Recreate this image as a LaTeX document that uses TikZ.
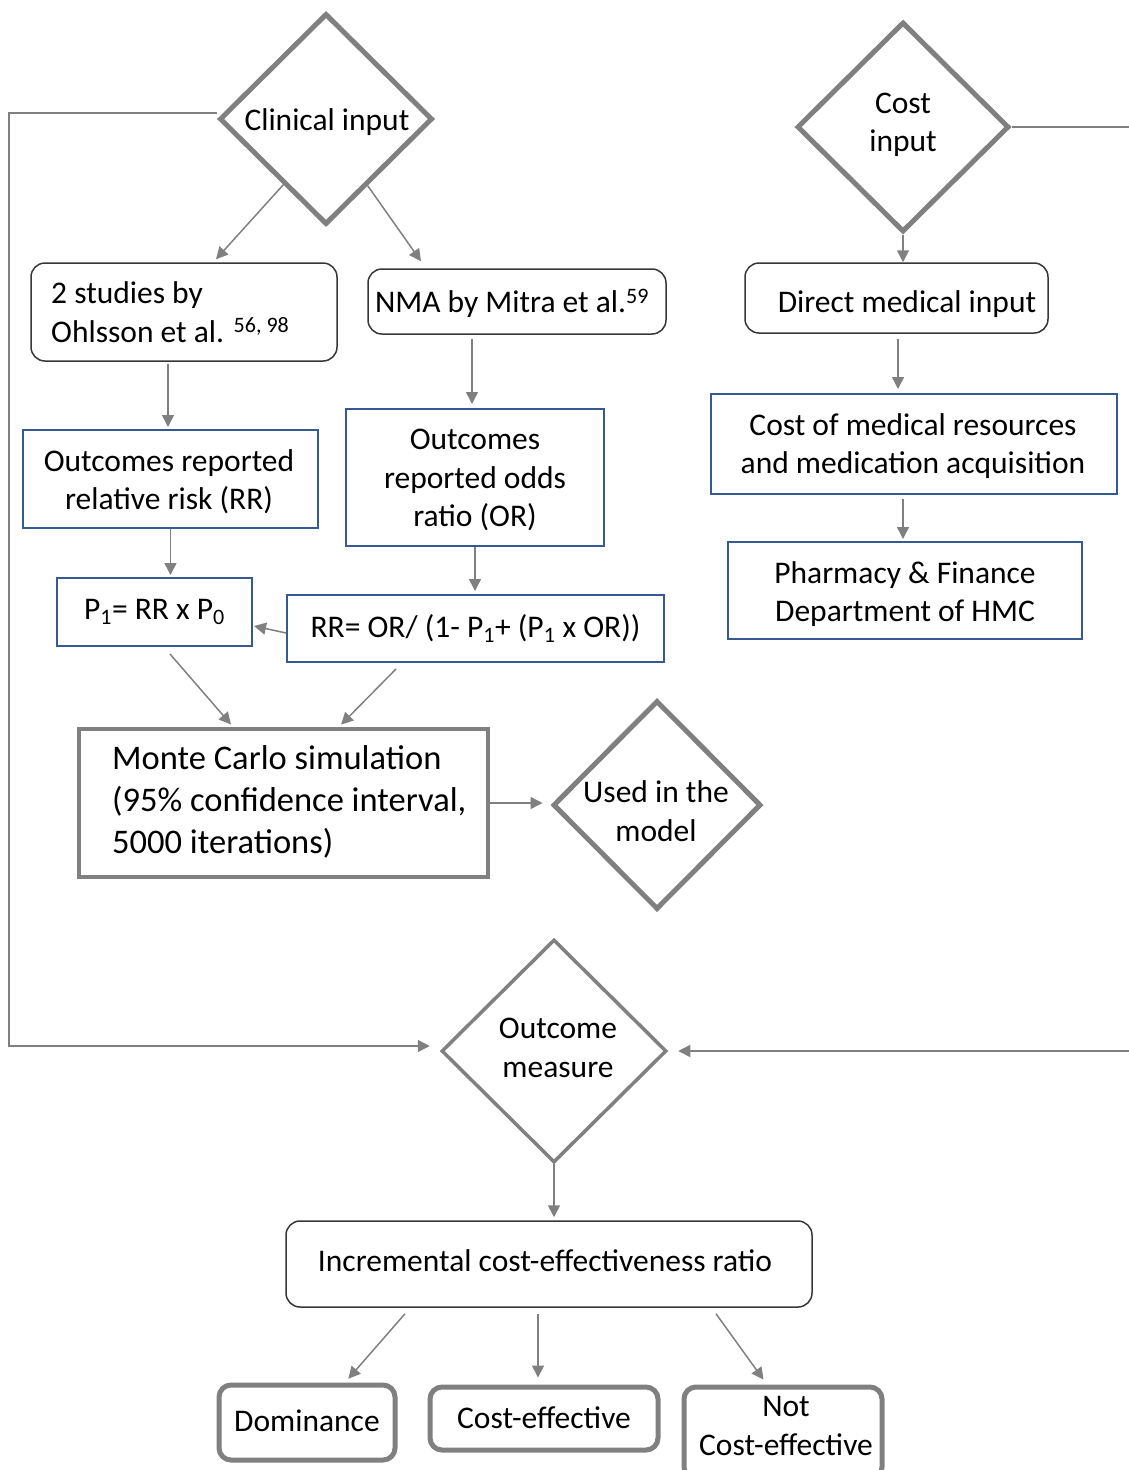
\documentclass[tikz,border=0pt]{standalone}
\usepackage{fontspec}
\setmainfont{Carlito}
\usetikzlibrary{shapes.geometric,arrows.meta,calc}
\definecolor{lgray}{RGB}{128,128,128}
\definecolor{bblue}{RGB}{52,90,145}
\definecolor{dgray}{RGB}{55,55,55}
\begin{document}
\begin{tikzpicture}[x=1pt,y=-1pt,
  txt/.style={font=\fontsize{31.5}{38.4}\selectfont, align=center, inner sep=0pt},
  bigtxt/.style={font=\fontsize{34.5}{42}\selectfont, align=left, inner sep=0pt},
  dia/.style={diamond, draw=lgray, line width=5pt, inner sep=0pt, aspect=1, txt},
  rbox/.style={draw=dgray, line width=1.5pt, rounded corners=14pt, inner sep=0pt, txt},
  bbox/.style={draw=bblue, line width=2pt, inner sep=0pt, txt},
  gbox/.style={draw=lgray, line width=5pt, rounded corners=12pt, inner sep=0pt, txt},
  arr/.style={draw=lgray, line width=1.5pt, -{Triangle[length=12pt,width=12pt]}},
  plain/.style={draw=lgray, line width=1.5pt}
]
\useasboundingbox (0,0) rectangle (1129,1470);

% diamonds
\node[dia, minimum width=213pt, minimum height=211pt] (clin) at (326,119) {};
\node[txt] (clint) at (327,122) {Clinical input};
\node[dia, minimum width=212pt, minimum height=210pt] (cost) at (903,127) {};
\node[txt] (costt) at (903,125) {Cost\\input};
\node[dia, minimum width=208pt, minimum height=209pt] (used) at (657,805) {};
\node[txt] (usedt) at (656,811) {Used in the\\model};
\node[dia, line width=3.5pt, minimum width=225pt, minimum height=223pt] (outm) at (554,1051) {};
\node[txt] (outmt) at (558,1048) {Outcome\\measure};

% left column
\node[rbox, minimum width=306pt, minimum height=98pt] (ohl) at (184,312) {};
\node[txt, align=left, anchor=west] (ohlt) at (51,312) {2 studies by\\Ohlsson et al. \textsuperscript{56, 98}};
\node[rbox, minimum width=298pt, minimum height=65pt] (nma) at (517,301.5) {};
\node[txt] (nmat) at (512,303) {NMA by Mitra et al.\textsuperscript{59}};
\node[bbox, minimum width=295pt, minimum height=98pt] (rrout) at (170.5,479) {};
\node[txt] (routt) at (169,482) {Outcomes reported\\relative risk (RR)};
\node[bbox, minimum width=258pt, minimum height=137pt] (orout) at (475,477.5) {};
\node[txt] (oroutt) at (475,480) {Outcomes\\reported odds\\ratio (OR)};
\node[bbox, minimum width=195pt, minimum height=68pt] (p1) at (154.5,612) {P\textsubscript{1}= RR x P\textsubscript{0}};
\node[bbox, minimum width=377pt, minimum height=67pt] (rrf) at (475.5,628.5) {RR= OR/ (1- P\textsubscript{1}+ (P\textsubscript{1} x OR))};
\node[draw=lgray, line width=4.5pt, minimum width=409pt, minimum height=148pt, inner sep=0pt] (mc) at (283.5,803) {};
\node[bigtxt, anchor=west] (mct) at (112,802) {Monte Carlo simulation\\(95\% confidence interval,\\5000 iterations)};

% right column
\node[rbox, minimum width=303pt, minimum height=70pt] (dmi) at (896.5,298) {};
\node[txt] (dmit) at (907,304) {Direct medical input};
\node[bbox, minimum width=406pt, minimum height=100pt] (cmr) at (914,444) {};
\node[txt] (cmrt) at (913,446) {Cost of medical resources\\and medication acquisition};
\node[bbox, minimum width=354pt, minimum height=97pt] (phf) at (905,590.5) {};
\node[txt] (phft) at (905,594) {Pharmacy \& Finance\\Department of HMC};

% bottom
\node[rbox, minimum width=526pt, minimum height=86pt] (icer) at (549,1264) {};
\node[txt] (icert) at (545,1261) {Incremental cost-effectiveness ratio};
\node[gbox, minimum width=176pt, minimum height=75pt] (dom) at (307,1422.5) {};
\node[txt] (domt) at (307,1421) {Dominance};
\node[gbox, minimum width=228pt, minimum height=63pt] (ce) at (544,1418.5) {};
\node[txt] (cet) at (544,1418) {Cost-effective};
\node[gbox, minimum width=198pt, minimum height=92pt] (nce) at (783,1433) {};
\node[txt] (ncet) at (786,1426) {Not\\Cost-effective};

\coordinate (lft) at (9,600);
\coordinate (rgt) at (1129,600);

% connectors
\draw[arr] (clin.237) -- ([xshift=32pt,yshift=3pt]ohl.north);
\draw[arr] (clin.302) -- ([xshift=-96pt,yshift=7pt]nma.north);
\draw[arr] (cost.south) -- (cost.south |- dmi.north);
\draw[arr, shorten <=2pt, shorten >=2pt] ([xshift=-16pt]ohl.south) -- ([xshift=-16pt]ohl.south |- rrout.north);
\draw[arr, shorten <=4pt, shorten >=4pt] ([xshift=-45pt]nma.south) -- ([xshift=-45pt]nma.south |- orout.north);
\draw[arr, shorten <=5pt, shorten >=4pt] ([xshift=1.5pt]dmi.south) -- ([xshift=1.5pt]dmi.south |- cmr.north);
\draw[arr, shorten <=4pt, shorten >=2pt] ([xshift=-11pt]cmr.south) -- ([xshift=-11pt]cmr.south |- phf.north);
\draw[arr, shorten >=2pt] (rrout.south) -- (rrout.south |- p1.north);
\draw[arr, shorten >=3pt] (orout.south) -- (orout.south |- rrf.north);
\draw[arr] ([yshift=-4.5pt]rrf.west) -- ([yshift=-14pt,xshift=1pt]p1.east);
\draw[arr, shorten >=3pt] ([xshift=15.5pt,yshift=-7pt]p1.south) -- ([xshift=-50.5pt]mc.north);
\draw[arr, shorten >=3pt] ([xshift=-79.5pt,yshift=-6pt]rrf.south) -- ([xshift=55.5pt]mc.north);
\draw[arr, shorten >=8pt] (mc.east) -- (mc.east -| used.west);
\draw[arr, shorten >=10pt] ([yshift=6pt]clin.west) -| (lft) |- ([yshift=5pt]outm.west);
\draw[plain] (cost.east) -- (cost.east -| rgt);
\draw[arr, shorten >=10pt] (rgt |- outm.east) -- (outm.east);
\draw[arr, shorten >=3pt] (outm.south) -- (outm.south |- icer.north);
\draw[arr, shorten >=5pt] ([xshift=-144pt,yshift=-6pt]icer.south) -- ([xshift=38pt]dom.north);
\draw[arr, shorten >=7pt] ([xshift=-11pt,yshift=-6pt]icer.south) -- ([xshift=-11pt]icer.south |- ce.north);
\draw[arr, shorten >=6pt] ([xshift=167pt,yshift=-6pt]icer.south) -- ([xshift=-16pt]nce.north);
\end{tikzpicture}
\end{document}
